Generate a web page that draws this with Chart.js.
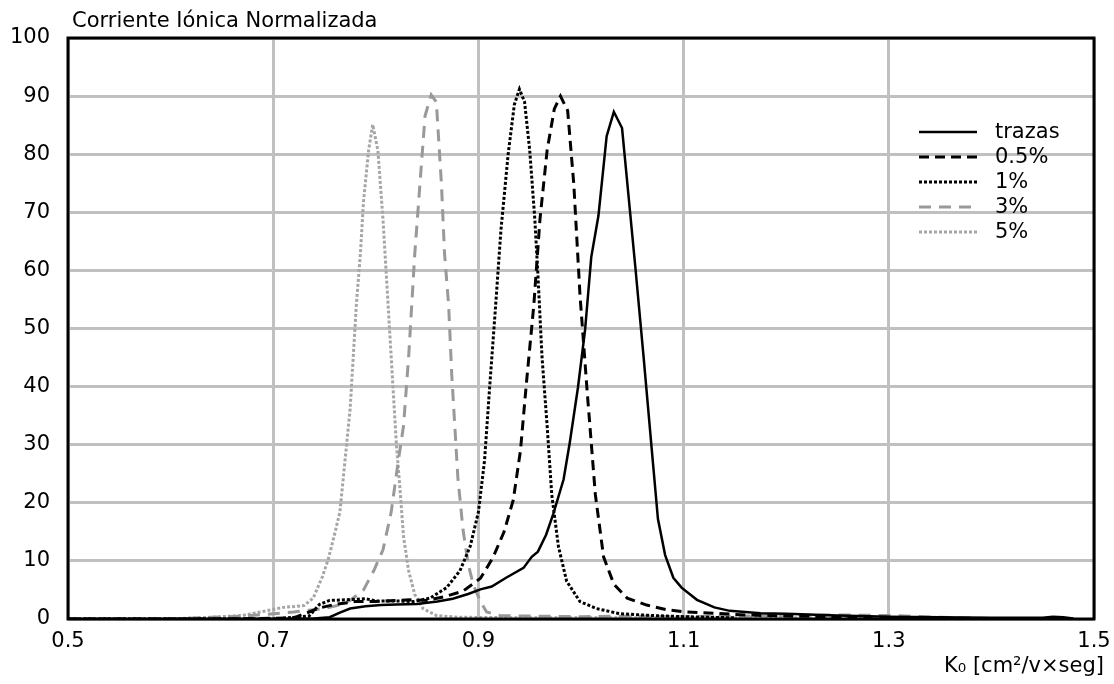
<!DOCTYPE html>
<html>
<head>
<meta charset="utf-8">
<script src="https://cdn.jsdelivr.net/npm/chart.js@4.4.0/dist/chart.umd.min.js"></script>
<style>
  html, body { margin: 0; padding: 0; background: #fff; }
  canvas { display: block; }
</style>
</head>
<body>
<canvas id="ionChart" width="1114" height="684"></canvas>
<script>
// K0 values (cm2/Vs) and normalized ionic current for each series
const trazasK0 = [0.50, 0.60, 0.70, 0.74, 0.755, 0.765, 0.775, 0.79, 0.805, 0.82, 0.84, 0.86, 0.875, 0.89, 0.902, 0.913, 0.927, 0.944, 0.952, 0.958, 0.966, 0.973, 0.983, 0.989, 0.997, 1.004, 1.010, 1.017, 1.025, 1.032, 1.040, 1.053, 1.061, 1.069, 1.075, 1.082, 1.090, 1.098, 1.113, 1.130, 1.145, 1.160, 1.175, 1.20, 1.25, 1.30, 1.35, 1.40, 1.45, 1.46, 1.47, 1.48];
const trazasI = [0, 0, 0, 0.1, 0.3, 1.1, 1.8, 2.2, 2.4, 2.5, 2.6, 3.0, 3.5, 4.3, 5.1, 5.6, 7.1, 8.8, 10.7, 11.6, 14.5, 18.1, 24.0, 30.3, 39.8, 49.8, 62.3, 69.4, 83.1, 87.3, 84.5, 60.5, 45.1, 29.1, 17.2, 11.0, 7.1, 5.4, 3.3, 2.0, 1.4, 1.2, 1.0, 0.9, 0.6, 0.4, 0.3, 0.2, 0.2, 0.4, 0.3, 0.1];

const p05K0 = [0.50, 0.65, 0.72, 0.735, 0.745, 0.76, 0.78, 0.80, 0.833, 0.850, 0.866, 0.885, 0.902, 0.914, 0.925, 0.934, 0.941, 0.947, 0.954, 0.960, 0.967, 0.974, 0.980, 0.987, 0.993, 0.999, 1.006, 1.014, 1.022, 1.032, 1.045, 1.064, 1.083, 1.103, 1.13, 1.16, 1.20, 1.25, 1.30, 1.35];
const p05I = [0, 0, 0.2, 1.2, 1.9, 2.5, 3.0, 3.0, 3.3, 3.2, 3.8, 4.8, 7.0, 10.5, 15.0, 20.5, 29.0, 41.0, 54.0, 68.8, 80.7, 87.8, 90.0, 87.5, 74.8, 55.8, 39.2, 21.4, 10.7, 6.0, 3.6, 2.4, 1.6, 1.2, 1.0, 0.7, 0.5, 0.4, 0.3, 0.1];

const p1K0 = [0.50, 0.70, 0.735, 0.745, 0.755, 0.77, 0.79, 0.80, 0.82, 0.837, 0.853, 0.869, 0.882, 0.892, 0.900, 0.906, 0.911, 0.916, 0.922, 0.929, 0.935, 0.940, 0.945, 0.950, 0.955, 0.958, 0.962, 0.967, 0.9715, 0.978, 0.986, 0.999, 1.015, 1.038, 1.07, 1.10, 1.15];
const p1I = [0, 0, 0.5, 2.5, 3.2, 3.3, 3.5, 3.1, 3.1, 3.0, 3.6, 5.4, 8.3, 12.5, 18.4, 27.3, 40.0, 52.0, 67.0, 80.0, 88.5, 91.2, 89.0, 80.7, 68.8, 59.3, 45.1, 33.2, 21.4, 12.5, 6.5, 3.0, 1.8, 0.9, 0.6, 0.4, 0.2];

const p3K0 = [0.50, 0.60, 0.64, 0.67, 0.70, 0.72, 0.735, 0.75, 0.762, 0.775, 0.788, 0.798, 0.807, 0.815, 0.822, 0.827, 0.832, 0.835, 0.838, 0.843, 0.848, 0.854, 0.859, 0.864, 0.867, 0.871, 0.874, 0.877, 0.880, 0.885, 0.890, 0.895, 0.902, 0.908, 0.921, 0.95, 1.00, 1.05, 1.10, 1.15, 1.20, 1.25, 1.30, 1.35, 1.40];
const p3I = [0, 0, 0.3, 0.5, 0.9, 1.2, 1.5, 1.8, 2.3, 3.2, 5.0, 8.3, 11.9, 18.4, 27.3, 33.2, 45.1, 54.0, 62.9, 74.8, 86.6, 90.2, 89.0, 74.8, 62.9, 54.0, 42.1, 33.2, 24.3, 15.4, 9.5, 5.9, 3.0, 1.2, 0.6, 0.5, 0.4, 0.5, 0.4, 0.5, 0.6, 0.7, 0.6, 0.3, 0.1];

const p5K0 = [0.50, 0.55, 0.60, 0.64, 0.67, 0.69, 0.71, 0.73, 0.739, 0.748, 0.754, 0.759, 0.765, 0.770, 0.775, 0.778, 0.781, 0.785, 0.788, 0.793, 0.797, 0.802, 0.807, 0.811, 0.814, 0.817, 0.820, 0.824, 0.827, 0.832, 0.838, 0.846, 0.859, 0.88, 0.95, 1.05, 1.20, 1.35, 1.45];
const p5I = [0, 0, 0, 0.3, 0.6, 1.3, 2.0, 2.3, 3.6, 7.3, 10.5, 14.0, 18.4, 27.3, 36.2, 45.1, 54.0, 62.9, 71.8, 80.7, 85.1, 80.7, 68.8, 57.0, 48.1, 39.2, 30.3, 21.4, 14.2, 8.3, 4.2, 1.8, 0.6, 0.3, 0.2, 0.2, 0.2, 0.1, 0.1];

const seriesNames = ['trazas', '0.5%', '1%', '3%', '5%'];
const xTicks = [0.5, 0.7, 0.9, 1.1, 1.3, 1.5];
const yTitle = 'Corriente Iónica Normalizada';
const xTitle = 'K₀ [cm²/v×seg]';

const FONT = '"DejaVu Sans", Verdana, sans-serif';
const FONT_SIZE = 21;

function toPoints(xs, ys) {
    return xs.map((x, i) => ({ x: x, y: ys[i] }));
}

const styles = [
    { color: '#000000', width: 2.5, dash: [] },
    { color: '#000000', width: 3, dash: [10, 6] },
    { color: '#000000', width: 3, dash: [3, 2] },
    { color: '#999999', width: 3, dash: [12, 8] },
    { color: '#a6a6a6', width: 3, dash: [3, 2] }
];

const allData = [
    toPoints(trazasK0, trazasI),
    toPoints(p05K0, p05I),
    toPoints(p1K0, p1I),
    toPoints(p3K0, p3I),
    toPoints(p5K0, p5I)
];

// frame, titles and line-sample legend
const decorations = {
    id: 'decorations',
    afterDatasetsDraw(chart) {
        const ctx = chart.ctx;
        const a = chart.chartArea;
        ctx.save();
        ctx.strokeStyle = '#000';
        ctx.lineWidth = 3;
        ctx.setLineDash([]);
        ctx.strokeRect(a.left, a.top, a.right - a.left, a.bottom - a.top);

        ctx.fillStyle = '#000';
        ctx.font = FONT_SIZE + 'px ' + FONT;
        ctx.textBaseline = 'alphabetic';
        ctx.textAlign = 'left';
        ctx.fillText(yTitle, a.left + 4, 27);
        ctx.textAlign = 'right';
        ctx.fillText(xTitle, 1104, 672);

        // legend
        const x0 = a.right - 175;
        const x1 = a.right - 117;
        ctx.textAlign = 'left';
        ctx.textBaseline = 'middle';
        seriesNames.forEach((name, i) => {
            const y = a.top + 94 + i * 25;
            const s = styles[i];
            ctx.beginPath();
            ctx.strokeStyle = s.color;
            ctx.lineWidth = s.width;
            ctx.setLineDash(s.dash);
            ctx.moveTo(x0, y);
            ctx.lineTo(x1, y);
            ctx.stroke();
            ctx.setLineDash([]);
            ctx.fillStyle = '#000';
            ctx.fillText(name, a.right - 99, y + 1);
        });
        ctx.restore();
    }
};

const ctx = document.getElementById('ionChart').getContext('2d');
const chart = new Chart(ctx, {
    type: 'line',
    data: {
        datasets: seriesNames.map((name, i) => ({
            label: name,
            data: allData[i],
            borderColor: styles[i].color,
            borderWidth: styles[i].width,
            borderDash: styles[i].dash,
            pointRadius: 0,
            tension: 0,
            fill: false
        }))
    },
    options: {
        responsive: false,
        animation: false,
        devicePixelRatio: 1,
        layout: { padding: { left: 10, top: 38, right: 20, bottom: 0 } },
        plugins: {
            legend: { display: false },
            tooltip: { enabled: false }
        },
        scales: {
            x: {
                type: 'linear',
                min: 0.5,
                max: 1.5,
                afterBuildTicks: function(scale) {
                    scale.ticks = xTicks.map(v => ({ value: v }));
                },
                afterFit: function(scale) {
                    scale.height = 65;
                    scale.paddingLeft = 0;
                    scale.paddingRight = 0;
                },
                grid: { color: '#c0c0c0', lineWidth: 3, drawTicks: false },
                border: { display: false },
                ticks: {
                    color: '#000',
                    font: { family: FONT, size: FONT_SIZE },
                    padding: 10,
                    maxRotation: 0,
                    callback: v => String(v)
                }
            },
            y: {
                min: 0,
                max: 100,
                afterFit: function(scale) {
                    scale.width = 58;
                    scale.paddingTop = 0;
                    scale.paddingBottom = 0;
                },
                grid: { color: '#c0c0c0', lineWidth: 3, drawTicks: false },
                border: { display: false },
                ticks: {
                    stepSize: 10,
                    color: '#000',
                    font: { family: FONT, size: FONT_SIZE },
                    padding: 18
                }
            }
        }
    },
    plugins: [decorations]
});
</script>
</body>
</html>
